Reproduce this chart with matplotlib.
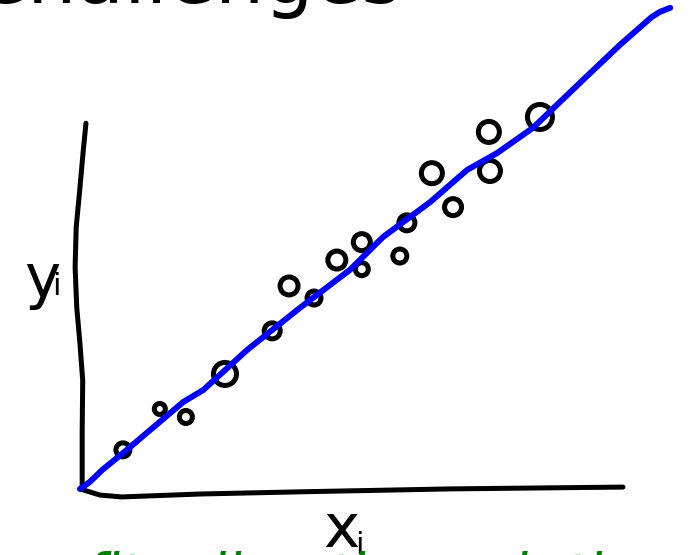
import matplotlib
matplotlib.use("Agg")
import matplotlib.pyplot as plt

# observations (x_i, y_i), drawn as hand-made rings
obs_x = [0.79, 1.47, 1.95, 2.67, 3.54, 3.85, 4.31, 4.73, 5.19, 5.19, 5.89, 6.02, 6.48, 6.87, 7.53, 7.55, 8.47]
obs_y = [1.10, 2.22, 2.00, 3.18, 4.36, 5.59, 5.26, 6.30, 6.79, 6.05, 6.41, 7.32, 8.68, 7.75, 9.81, 8.74, 10.22]

# fitted line, sketched by hand
fit_x = [0.0, 0.18, 0.41, 0.79, 1.90, 2.27, 3.08, 4.05, 4.97, 5.58, 6.45, 7.13, 7.68, 8.34, 9.26, 9.94, 10.53, 10.68, 10.87]
fit_y = [0.03, 0.22, 0.55, 1.01, 2.41, 2.74, 3.84, 4.99, 6.03, 6.93, 7.89, 8.77, 9.23, 9.92, 11.23, 12.19, 12.96, 13.10, 13.21]

# hand-drawn axis strokes
yaxis_x = [0.11, 0.06, 0.0, -0.07, -0.09, -0.06, 0.0, 0.05, 0.04, 0.04]
yaxis_y = [10.05, 9.3, 8.3, 7.2, 6.1, 5.0, 4.0, 3.0, 1.6, 0.03]
xaxis_x = [0.0, 0.37, 0.77, 2.21, 4.05, 6.81, 10.0]
xaxis_y = [0.03, -0.14, -0.19, -0.11, -0.05, 0.03, 0.08]

title = "Challenges"
caption = "fit a line through the data"

# ring outer diameters in pixels
ring_px = [19, 16, 18, 28, 21, 23, 19, 23, 22, 18, 19, 21, 26, 22, 26, 26, 30]

W, H, DPI = 691, 555, 100
fig = plt.figure(figsize=(W / DPI, H / DPI), dpi=DPI)
ax = fig.add_axes([80 / W, 65 / H, 543 / W, 365 / H])
ax.set_xlim(0, 10)
ax.set_ylim(0, 10)
ax.axis("off")

ax.plot(yaxis_x, yaxis_y, color="black", lw=3.6, solid_capstyle="round",
        solid_joinstyle="round", clip_on=False)
ax.plot(xaxis_x, xaxis_y, color="black", lw=3.6, solid_capstyle="round",
        solid_joinstyle="round", clip_on=False)

stroke = 5.0
sizes = [((d - stroke) * 72 / DPI) ** 2 for d in ring_px]
ax.scatter(obs_x, obs_y, s=sizes, facecolors="none", edgecolors="black",
           linewidths=stroke * 72 / DPI, clip_on=False, zorder=3)

ax.plot(fit_x, fit_y, color="#0000ff", lw=4.3, solid_capstyle="round",
        solid_joinstyle="round", clip_on=False, zorder=4)

hand = "DejaVu Sans"
fig.text(24 / W, 1 - 297 / H, "y", fontsize=44, family=hand, va="baseline", ha="left")
fig.text(52 / W, 1 - 295 / H, "i", fontsize=22, family=hand, va="baseline", ha="left")
fig.text(323 / W, 1 - 547 / H, "x", fontsize=44, family=hand, va="baseline", ha="left")
fig.text(355 / W, 1 - 554 / H, "i", fontsize=22, family=hand, va="baseline", ha="left")

fig.text(-26 / W, 1 - 3 / H, title, fontsize=56, family="DejaVu Sans", va="baseline", ha="left")
fig.text(85 / W, 1 - 551 / H, caption, fontsize=40, color="#008000",
         family=hand, style="italic", va="top", ha="left")

fig.savefig("out.png", dpi=DPI, facecolor="white")
